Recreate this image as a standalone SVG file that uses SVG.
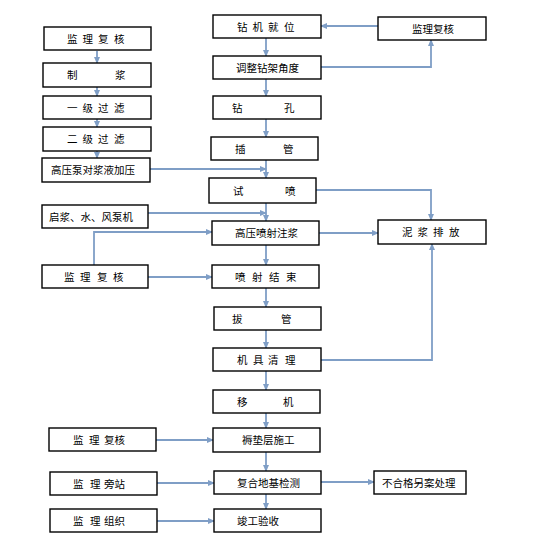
<svg xmlns="http://www.w3.org/2000/svg" width="538" height="548" viewBox="0 0 538 548">
<style>
.b rect{fill:#fff;stroke:#000;stroke-width:1.4}
.b text{font-family:"Noto Sans CJK SC","Liberation Sans",sans-serif;font-size:10.5px;fill:#000}
.c path{fill:none;stroke:#7F9EC6;stroke-width:1.8;marker-end:url(#a)}
</style>
<defs>
<marker id="a" markerWidth="7" markerHeight="6" refX="6" refY="3" orient="auto" markerUnits="userSpaceOnUse">
<path d="M0,0 L7,3 L0,6 Z" fill="#7F9EC6"/>
</marker>
</defs>
<g class="c" id="connectors">
<path d="M97,51 V63"/>
<path d="M97,87 V96"/>
<path d="M97,119 V127"/>
<path d="M97,151 V158"/>
<path d="M150,169 H266"/>
<path d="M266,38 V56"/>
<path d="M266,79 V96"/>
<path d="M266,119 V137"/>
<path d="M266,160 V178"/>
<path d="M266,203 V221"/>
<path d="M266,245 V265"/>
<path d="M266,288 V307"/>
<path d="M266,330 V348"/>
<path d="M266,371 V390"/>
<path d="M266,413 V428"/>
<path d="M266,452 V471"/>
<path d="M266,494 V509"/>
<path d="M378,26 H321"/>
<path d="M321,67 H431 V40"/>
<path d="M316,190 H431 V220"/>
<path d="M148,213 H266"/>
<path d="M94,265 V232 H212"/>
<path d="M319,233 H378"/>
<path d="M148,277 H212"/>
<path d="M321,360 H432 V244"/>
<path d="M156,440 H213"/>
<path d="M157,483 H214"/>
<path d="M157,521 H214"/>
<path d="M321,482 H374"/>
</g>
<g class="b" id="n1"><rect x="44" y="27" width="107" height="23"/><text x="67 82.5 98 114" y="43">监理复核</text></g>
<g class="b" id="n2"><rect x="43" y="63" width="108" height="24"/><text x="67 115" y="79">制浆</text></g>
<g class="b" id="n3"><rect x="43" y="96" width="108" height="23"/><text x="67 82.5 98 114" y="112">一级过滤</text></g>
<g class="b" id="n4"><rect x="43" y="127" width="108" height="24"/><text x="67 82.5 98 114" y="143">二级过滤</text></g>
<g class="b" id="n5"><rect x="42" y="158" width="108" height="24"/><text x="51" y="174">高压泵对浆液加压</text></g>
<g class="b" id="n6"><rect x="213" y="15" width="108" height="23"/><text x="237 252.5 268 284" y="31">钻机就位</text></g>
<g class="b" id="n7"><rect x="378" y="17" width="108" height="23"/><text x="412" y="33">监理复核</text></g>
<g class="b" id="n8"><rect x="213" y="56" width="108" height="23"/><text x="236" y="72">调整钻架角度</text></g>
<g class="b" id="n9"><rect x="213" y="96" width="108" height="23"/><text x="232 284" y="112">钻孔</text></g>
<g class="b" id="n10"><rect x="211" y="137" width="107" height="23"/><text x="235 283" y="153">插管</text></g>
<g class="b" id="n11"><rect x="209" y="178" width="107" height="25"/><text x="233 285" y="195">试喷</text></g>
<g class="b" id="n12"><rect x="378" y="220" width="108" height="24"/><text x="402 417.5 433 449" y="236">泥浆排放</text></g>
<g class="b" id="n13"><rect x="212" y="221" width="107" height="24"/><text x="235" y="237">高压喷射注浆</text></g>
<g class="b" id="n14"><rect x="42" y="205" width="106" height="23"/><text x="49" y="221">启浆、水、风泵机</text></g>
<g class="b" id="n15"><rect x="42" y="265" width="106" height="23"/><text x="64 80 97 113" y="281">监理复核</text></g>
<g class="b" id="n16"><rect x="212" y="265" width="107" height="23"/><text x="235 252 269 286" y="281">喷射结束</text></g>
<g class="b" id="n17"><rect x="214" y="307" width="107" height="23"/><text x="232 281" y="323">拔管</text></g>
<g class="b" id="n18"><rect x="213" y="348" width="108" height="23"/><text x="237 253 268 285" y="364">机具清理</text></g>
<g class="b" id="n19"><rect x="213" y="390" width="107" height="23"/><text x="237 283" y="406">移机</text></g>
<g class="b" id="n20"><rect x="49" y="428" width="107" height="23"/><text x="73 89 104 114.5" y="444">监理复核</text></g>
<g class="b" id="n21"><rect x="213" y="428" width="107" height="24"/><text x="242" y="444">褥垫层施工</text></g>
<g class="b" id="n22"><rect x="50" y="472" width="107" height="23"/><text x="73 90 104 114.5" y="488">监理旁站</text></g>
<g class="b" id="n23"><rect x="214" y="471" width="107" height="23"/><text x="237" y="487">复合地基检测</text></g>
<g class="b" id="n24"><rect x="374" y="471" width="92" height="23"/><text x="382" y="487">不合格另案处理</text></g>
<g class="b" id="n25"><rect x="50" y="509" width="107" height="23"/><text x="73 90 104 114.5" y="525">监理组织</text></g>
<g class="b" id="n26"><rect x="214" y="509" width="107" height="23"/><text x="237" y="525">竣工验收</text></g>
</svg>
